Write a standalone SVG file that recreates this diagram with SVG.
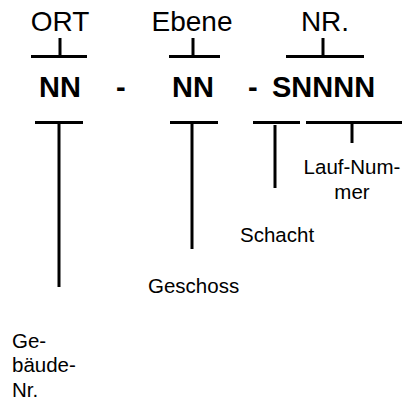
<svg xmlns="http://www.w3.org/2000/svg" width="406" height="402" viewBox="0 0 406 402">
<style>
text{font-family:"Liberation Sans",Arial,sans-serif;fill:#000}
.h{font-size:28px}
.b{font-size:29px;font-weight:bold}
.s{font-size:20.5px}
.c{text-anchor:middle}
line{stroke:#000;stroke-width:3}
</style>
<rect width="406" height="402" fill="#fff"/>
<g id="ort"><text class="h c" x="60" y="31">ORT</text></g>
<g id="ebene"><text class="h c" x="192" y="31">Ebene</text></g>
<g id="nr"><text class="h c" x="325" y="31">NR.</text></g>
<g id="code">
<text class="b" x="39" y="97">NN</text>
<text class="b" x="116" y="97">-</text>
<text class="b" x="172" y="97">NN</text>
<text class="b" x="248" y="97">-</text>
<text class="b" x="272" y="97">SNNNN</text>
</g>
<g id="lauf"><text class="s c" x="352" y="174">Lauf-Num-</text><text class="s c" x="352" y="199">mer</text></g>
<g id="schacht"><text class="s" x="240" y="242">Schacht</text></g>
<g id="geschoss"><text class="s" x="148" y="293">Geschoss</text></g>
<g id="gebaeude"><text class="s" x="12" y="348">Ge-</text><text class="s" x="12" y="372">bäude-</text><text class="s" x="12" y="397">Nr.</text></g>
<g id="connectors">
<line x1="31" y1="56.5" x2="87" y2="56.5"/><line x1="60" y1="38" x2="60" y2="56.5"/>
<line x1="169" y1="56.5" x2="220" y2="56.5"/><line x1="193" y1="38" x2="193" y2="56.5"/>
<line x1="286" y1="56.5" x2="364" y2="56.5"/><line x1="323" y1="38" x2="323" y2="56.5"/>
<line x1="35" y1="122.5" x2="83" y2="122.5"/><line x1="59" y1="122.5" x2="59" y2="287"/>
<line x1="170" y1="122.5" x2="218" y2="122.5"/><line x1="192" y1="122.5" x2="192" y2="249"/>
<line x1="253" y1="122.5" x2="300" y2="122.5"/><line x1="275" y1="125" x2="275" y2="188"/>
<line x1="306" y1="122.5" x2="402" y2="122.5"/><line x1="352" y1="122.5" x2="352" y2="143"/>
</g>
</svg>
